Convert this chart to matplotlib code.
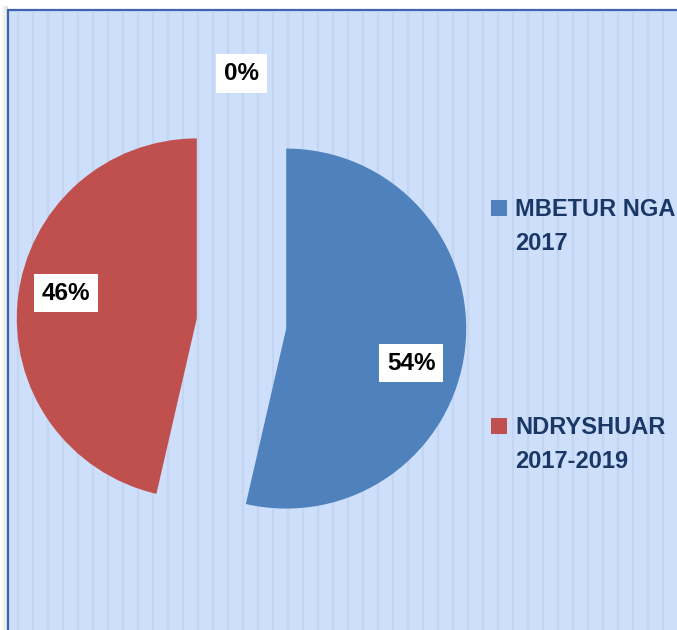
import numpy as np
import matplotlib.pyplot as plt
from matplotlib.patches import Rectangle

plt.rcParams['font.family'] = ['Liberation Sans', 'DejaVu Sans']

# data ------------------------------------------------------------------
values = [53.6, 46.4, 0.0]
pct_labels = ['54%', '46%', '0%']
legend_lines = [['MBETUR NGA', '2017'], ['NDRYSHUAR', '2017-2019']]
colors = ['#4F81BD', '#C0504D', '#9BBB59']

W, H = 677, 630
bg = '#CEDFFC'
stripe = '#C4D5F2'
navy = '#1A3866'

fig = plt.figure(figsize=(W / 100, H / 100), dpi=100)
ax = fig.add_axes([0, 0, 1, 1])

# frame with striped fill
for k, a in enumerate([0.04, 0.07, 0.10]):
    ax.add_patch(Rectangle((2 + 2 * k, -20), 2, H - 6 + 20, color='black', alpha=a, lw=0, zorder=0))
ax.add_patch(Rectangle((8, -50), W + 100, H - 10 + 50, facecolor=bg,
                       edgecolor='#3F64AE', lw=1.6, zorder=1))
ax.vlines(np.arange(18.3, W, 15), -20, H - 11, color=stripe, lw=1.6, zorder=1.5)

# pie
r = 180
cx, cy = 241.5, H - 323.5
expl = 0.25 * r
wedges, _ = ax.pie(values, colors=colors, startangle=90, counterclock=False,
                   explode=[expl] * 3, radius=r, center=(cx, cy),
                   wedgeprops=dict(linewidth=0), frame=True)
for w in wedges:
    w.set_zorder(2)

# data labels (Excel "best fit" places them off the bisector a little)
lab_ang = [-15.5, 169.0, 90.0]
lab_dist = [0.72, 0.74, 1.14]
for w, lab, a, d in zip(wedges, pct_labels, lab_ang, lab_dist):
    mid = np.deg2rad((w.theta1 + w.theta2) / 2)
    ox, oy = cx + expl * np.cos(mid), cy + expl * np.sin(mid)
    t = np.deg2rad(a)
    ax.text(ox + d * r * np.cos(t), oy + d * r * np.sin(t), lab,
            ha='center', va='center', fontsize=17.5, fontweight='bold', color='black',
            bbox=dict(boxstyle='square,pad=0.32', fc='white', ec='none'), zorder=3)

# legend
leg_y = [216, 434]
for lines, c, y0 in zip(legend_lines, colors, leg_y):
    ax.add_patch(Rectangle((491, H - y0), 16, 16, color=c, lw=0, zorder=3))
    for i, s in enumerate(lines):
        ax.text(515, H - y0 - i * 34, s, ha='left', va='baseline', fontsize=17,
                fontweight='bold', color=navy, zorder=3)

ax.set_xlim(0, W)
ax.set_ylim(0, H)
ax.set_aspect('auto')
ax.axis('off')

plt.savefig('out.png', dpi=100, facecolor='white')
